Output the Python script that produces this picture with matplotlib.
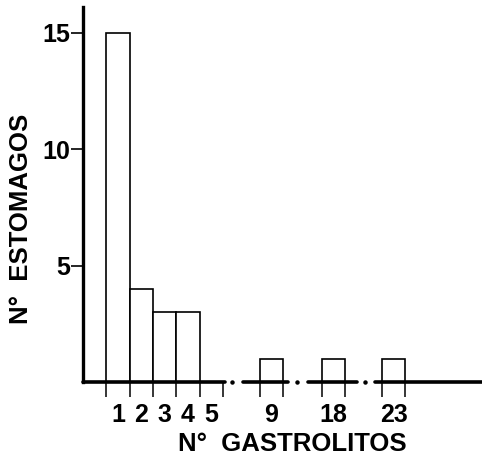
import matplotlib
matplotlib.use("Agg")
import matplotlib.pyplot as plt

# Datos: numero de gastrolitos vs numero de estomagos
gastrolitos = ["1", "2", "3", "4", "5", "9", "18", "23"]
estomagos = [15, 4, 3, 3, 0, 1, 1, 1]

# posiciones en el eje x roto (1-5 contiguos, luego cortes)
posiciones = [1, 2, 3, 4, 5, 7.57, 10.24, 12.81]

plt.rcParams["font.family"] = ["Liberation Sans", "DejaVu Sans"]
plt.rcParams["font.weight"] = "bold"

fig = plt.figure(figsize=(4.82, 4.58), dpi=100)
ax = fig.add_axes([83 / 482, (458 - 382) / 458, (482 - 83) / 482, (382 - 7) / 458])

ax.bar(posiciones, estomagos, width=1.0, color="white", edgecolor="black",
       linewidth=1.2, zorder=2)

ax.set_xlim(-0.5, 16.6)
ax.set_ylim(0, 16.1)

# eje x con cortes
for x0, x1 in [(-0.5, 5.58), (6.35, 8.28), (9.13, 11.23), (12.0, 16.6)]:
    ax.plot([x0, x1], [0, 0], color="black", lw=2.6, solid_capstyle="round",
            zorder=3, clip_on=False)
ax.plot([5.9, 8.66, 11.57], [0, 0, 0], ls="none", marker="o", ms=2.2,
        color="black", clip_on=False, zorder=3)

for s in ["top", "right", "bottom"]:
    ax.spines[s].set_visible(False)
ax.spines["left"].set_linewidth(2.4)

ax.set_yticks([5, 10, 15])
ax.tick_params(axis="y", length=9, width=1.2, pad=0.5, labelsize=18)

# etiquetas en el centro de cada barra, marcas en los bordes
ax.set_xticks(posiciones)
ax.set_xticklabels(gastrolitos)
ax.tick_params(axis="x", which="major", length=0, pad=15, labelsize=18)
bordes = []
for p in posiciones:
    bordes += [p - 0.5, p + 0.5]
ax.set_xticks(sorted(set(bordes)), minor=True)
ax.tick_params(axis="x", which="minor", length=11, width=1.1, direction="out")

ax.set_xlabel("N°  GASTROLITOS", fontsize=18.5, fontweight="bold")
ax.xaxis.set_label_coords(0.524, -0.133)
ax.set_ylabel("N°  ESTOMAGOS", fontsize=18.5, fontweight="bold")
ax.yaxis.set_label_coords(-0.125, 0.436)

fig.savefig("out.png", dpi=100)
